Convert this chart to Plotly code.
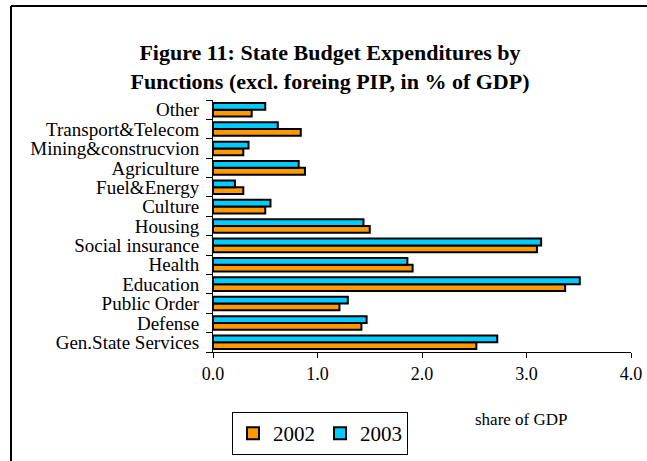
import plotly.graph_objects as go

categories = ["Gen.State Services", "Defense", "Public Order", "Education", "Health",
              "Social insurance", "Housing", "Culture", "Fuel&Energy", "Agriculture",
              "Mining&construcvion", "Transport&Telecom", "Other"]
values_2002 = [2.52, 1.42, 1.21, 3.37, 1.91, 3.10, 1.50, 0.50, 0.29, 0.88, 0.29, 0.84, 0.37]
values_2003 = [2.72, 1.47, 1.29, 3.51, 1.86, 3.14, 1.44, 0.55, 0.21, 0.82, 0.34, 0.62, 0.50]
x_ticks = [0, 1, 2, 3, 4]
x_tick_labels = ["0.0", "1.0", "2.0", "3.0", "4.0"]

SERIF = "Liberation Serif, Times New Roman, serif"

W, H = 647, 461
L, T, PW, PH = 213, 100, 418, 252

fig = go.Figure()
fig.add_trace(go.Bar(y=categories, x=values_2002, orientation="h", name="2002",
                     marker=dict(color="#FF9900", line=dict(color="black", width=2))))
fig.add_trace(go.Bar(y=categories, x=values_2003, orientation="h", name="2003",
                     marker=dict(color="#00CCFF", line=dict(color="black", width=2))))

fig.update_layout(
    width=W, height=H,
    margin=dict(l=L, r=W-L-PW, t=T, b=H-T-PH, autoexpand=False),
    paper_bgcolor="white", plot_bgcolor="white",
    barmode="group", bargap=0.3, bargroupgap=0,
    font=dict(family=SERIF, color="black"),
    title=dict(text="<b>Figure 11: State Budget Expenditures by<br>Functions (excl. foreing PIP, in % of GDP)</b>",
               x=330/W, xanchor="center", y=1-60/H, yanchor="middle",
               font=dict(family=SERIF, size=22, color="black")),
    showlegend=True,
    legend=dict(orientation="h", x=(232-L)/PW, xanchor="left",
                y=(T+PH-412)/PH, yanchor="top",
                bordercolor="black", borderwidth=1, bgcolor="white",
                font=dict(family=SERIF, size=21, color="black"),
                traceorder="normal"),
    xaxis=dict(range=[0, 4], tickvals=x_ticks, ticktext=x_tick_labels,
               showgrid=False, zeroline=False, showline=True, linecolor="black", linewidth=1,
               ticks="outside", ticklen=5, tickcolor="black",
               tickfont=dict(family=SERIF, size=18, color="black")),
    yaxis=dict(type="category", range=[-0.5, len(categories)-0.5],
               tickmode="array", tickvals=categories, ticktext=categories,
               showgrid=False, zeroline=False, showline=True, linecolor="black", linewidth=1,
               ticks="outside", ticklen=6, tickcolor="black", tickson="boundaries",
               ticklabelstandoff=9,
               tickfont=dict(family=SERIF, size=19, color="black")),
)

fig.add_annotation(text="share of GDP", xref="paper", yref="paper",
                   x=(521-L)/PW, y=(T+PH-419)/PH, xanchor="center", yanchor="middle",
                   showarrow=False, font=dict(family=SERIF, size=17, color="black"))

# outer frame of the chart (top and left edges; the rest runs off the picture)
fig.add_shape(type="line", xref="paper", yref="paper",
              x0=(11-L)/PW, x1=1.3, y0=(T+PH-6)/PH, y1=(T+PH-6)/PH,
              line=dict(color="black", width=2), layer="below")
fig.add_shape(type="line", xref="paper", yref="paper",
              x0=(11-L)/PW, x1=(11-L)/PW, y0=-0.8, y1=(T+PH-6)/PH,
              line=dict(color="black", width=2), layer="below")

fig.write_html(
    "out.html",
    config={"displayModeBar": False},
    post_script="document.body.style.margin='0';"
                "document.body.style.overflow='hidden';"
                "document.documentElement.style.overflow='hidden';",
)
